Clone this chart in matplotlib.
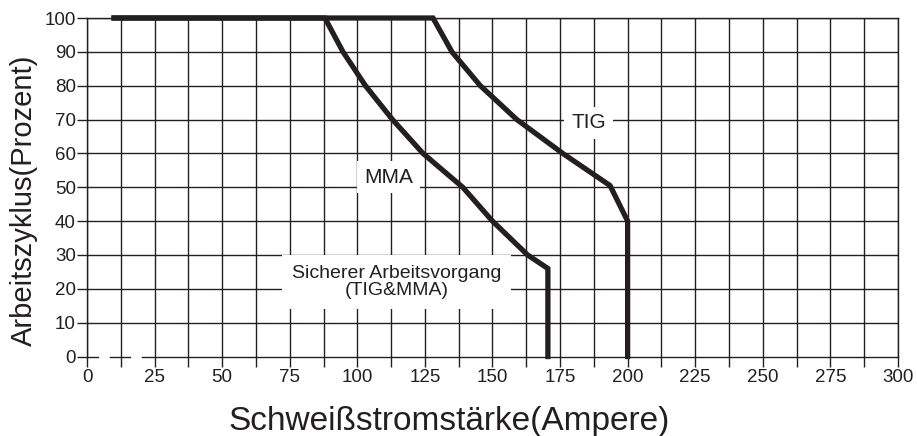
import matplotlib.pyplot as plt
import numpy as np

plt.rcParams['font.family'] = ['Liberation Sans', 'DejaVu Sans']

# duty cycle curves
tig_amp = [10, 128, 135, 145.5, 159, 176, 193.5, 200, 200]
tig_duty = [100, 100, 90, 80, 70, 60, 50.5, 40, 0]
mma_amp = [10, 88, 94.7, 103, 113, 124.3, 139, 150, 163, 170.5, 170.5]
mma_duty = [100, 100, 90, 80, 70, 60, 50, 40, 30, 26, 0]

x_ticks = [0, 25, 50, 75, 100, 125, 150, 175, 200, 225, 250, 275, 300]
y_ticks = [0, 10, 20, 30, 40, 50, 60, 70, 80, 90, 100]

INK = '#231f20'

fig = plt.figure(figsize=(9.17, 4.36), dpi=100)
ax = fig.add_axes([0.0949, 0.1823, 0.8843, 0.7764])
ax.set_xlim(0, 300)
ax.set_ylim(0, 100)

# grid: vertical every 12.5, horizontal every 10
ax.set_xticks(x_ticks)
ax.set_xticks(np.arange(12.5, 300, 25), minor=True)
ax.set_yticks(y_ticks)
ax.grid(True, which='both', color=INK, linewidth=1.0)
ax.get_ygridlines()[0].set_visible(False)
ax.tick_params(which='both', direction='out', length=7, width=1.0, color=INK)
ax.tick_params(axis='x', which='both', labelsize=13.5, pad=2, labelcolor=INK)
ax.tick_params(axis='y', labelsize=13.5, pad=1, labelcolor=INK)

for s in ax.spines.values():
    s.set_color(INK)
    s.set_linewidth(1.0)
ax.spines['bottom'].set_visible(False)

# broken zero line on the left
for x0, x1 in [(0, 4), (8.5, 16), (20.3, 300)]:
    ax.plot([x0, x1], [0, 0], color=INK, lw=1.0, clip_on=False, zorder=2)

ax.plot(tig_amp, tig_duty, color=INK, lw=3.8, solid_joinstyle='miter',
        clip_on=False, zorder=4)
ax.plot(mma_amp, mma_duty, color=INK, lw=3.8, solid_joinstyle='miter',
        clip_on=False, zorder=4)

box = dict(facecolor='white', edgecolor='none', pad=5)
ax.text(185.5, 69, 'TIG', fontsize=15, color=INK, ha='center', va='center',
        bbox=box, zorder=3)
ax.text(111.5, 53, 'MMA', fontsize=15, color=INK, ha='center', va='center',
        bbox=box, zorder=3)
ax.text(114.5, 22, 'Sicherer Arbeitsvorgang\n(TIG&MMA)', fontsize=14,
        color=INK, ha='center', va='center', linespacing=1.05,
        bbox=dict(facecolor='white', edgecolor='none', pad=7), zorder=3)

fig.text(449 / 917, 1 - 430 / 436, 'Schweißstromstärke(Ampere)', fontsize=24,
         color=INK, ha='center', va='baseline')
fig.text(24 / 917, 1 - 200 / 436, 'Arbeitszyklus(Prozent)', fontsize=21,
         color=INK, ha='center', va='center', rotation=90)

fig.savefig('out.png', dpi=100)
